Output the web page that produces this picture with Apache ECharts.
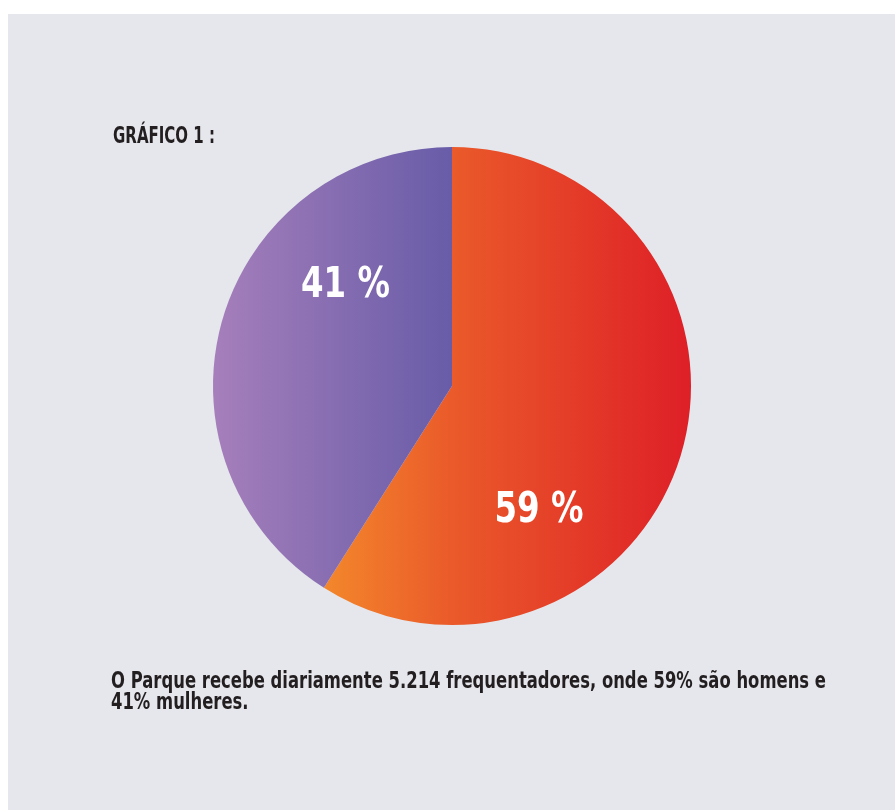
<!DOCTYPE html>
<html>
<head>
<meta charset="utf-8">
<script src="https://cdn.jsdelivr.net/npm/echarts@6/dist/echarts.min.js"></script>
<style>
html,body{margin:0;padding:0;background:#ffffff;}
#chart{width:895px;height:810px;}
</style>
</head>
<body>
<div id="chart"></div>
<script>
var categories = ['Homens', 'Mulheres'];
var values = [59, 41];
var titleText = 'GRÁFICO 1 :';
var footerLines = [
  'O Parque recebe diariamente 5.214 frequentadores, onde 59% são homens e',
  '41% mulheres.'
];

var FAMILY = '"DejaVu Sans", sans-serif';
var chart = echarts.init(document.getElementById('chart'));

var mctx = document.createElement('canvas').getContext('2d');
function fitScale(text, font, target) {
  mctx.font = font;
  return target / mctx.measureText(text).width;
}

var titleFont = 'bold 23px ' + FAMILY;
var footFont = 'bold 23px ' + FAMILY;
var labelFont = 'bold 42px ' + FAMILY;
var titleScale = fitScale(titleText, titleFont, 102);
var footScale = fitScale(footerLines[0], footFont, 715);
var labelTexts = values.map(function (v) { return v + ' %'; });
var labelScale = fitScale(labelTexts[1], labelFont, 89);

var gradients = [
  new echarts.graphic.LinearGradient(0, 0, 1, 0, [
    {offset: 0, color: '#f3872b'},
    {offset: 0.35, color: '#ea5a2a'},
    {offset: 1, color: '#de1f27'}
  ]),
  new echarts.graphic.LinearGradient(0, 0, 1, 0, [
    {offset: 0, color: '#a67fbb'},
    {offset: 1, color: '#685ca8'}
  ])
];
var labelPos = [[539, 511], [345.5, 286.5]];

var graphics = [
  {type: 'rect', left: 8, top: 14, shape: {width: 887, height: 796}, style: {fill: '#e6e7ec'}, z: -10},
  {type: 'text', x: 113, y: 149, scaleX: titleScale, style: {text: titleText, font: titleFont, fill: '#231f20', textVerticalAlign: 'bottom'}},
  {type: 'text', x: 111, y: 694, scaleX: footScale, style: {text: footerLines[0], font: footFont, fill: '#231f20', textVerticalAlign: 'bottom'}},
  {type: 'text', x: 111, y: 715, scaleX: footScale, style: {text: footerLines[1], font: footFont, fill: '#231f20', textVerticalAlign: 'bottom'}}
];
labelTexts.forEach(function (t, i) {
  graphics.push({
    type: 'text', x: labelPos[i][0], y: labelPos[i][1], scaleX: labelScale, z: 10,
    style: {text: t, font: labelFont, fill: '#ffffff', textAlign: 'center', textVerticalAlign: 'middle'}
  });
});

chart.setOption({
  backgroundColor: '#ffffff',
  animation: false,
  graphic: graphics,
  series: [{
    type: 'pie',
    center: [452, 386],
    radius: [0, 239],
    startAngle: 90,
    clockwise: true,
    silent: true,
    data: categories.map(function (c, i) {
      return {name: c, value: values[i], itemStyle: {color: gradients[i]}};
    }),
    label: {show: false},
    labelLine: {show: false}
  }]
});
</script>
</body>
</html>
